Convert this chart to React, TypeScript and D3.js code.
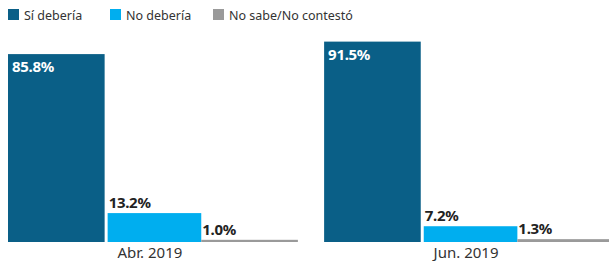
import React from "react";
import * as d3 from "d3";

const periods = ["Abr. 2019", "Jun. 2019"];
const seriesNames = ["Sí debería", "No debería", "No sabe/No contestó"];
const seriesColors = ["#0a5f87", "#00aeef", "#9a9a9a"];
const abrValues = [85.8, 13.2, 1.0];
const junValues = [91.5, 7.2, 1.3];
const valuesByPeriod = [abrValues, junValues];

const W = 609;
const H = 261;
const FONT = "'Noto Sans', 'Open Sans', sans-serif";

export default function App() {
  const x0 = d3.scaleBand<string>().domain(periods).range([8, 614]).paddingInner(0.083);
  const x1 = d3.scaleBand<string>().domain(seriesNames).range([0, x0.bandwidth()]).paddingInner(0.0);
  const y = d3.scaleLinear().domain([0, 100]).range([242, 23]);
  const fmt = (v: number) => `${v.toFixed(1)}%`;

  const legendX = [8, 110, 213];

  return (
    <svg width={W} height={H} style={{ position: "absolute", left: 0, top: 0, display: "block" }}>
      <rect x={0} y={0} width={W} height={H} fill="#ffffff" />
      {seriesNames.map((s, i) => (
        <g key={s} transform={`translate(${legendX[i]},0)`}>
          <rect x={0} y={9} width={11} height={11} fill={seriesColors[i]} />
          <text x={16} y={19.5} fontFamily={FONT} fontSize={12.5} fill="#333">{s}</text>
        </g>
      ))}
      {periods.map((p, gi) => {
        const gx = x0(p)!;
        const vals = valuesByPeriod[gi];
        return (
          <g key={p} transform={`translate(${gx},0)`}>
            {seriesNames.map((s, si) => {
              const bx = x1(s)!;
              const bw = x1.bandwidth();
              const v = vals[si];
              const top = y(v);
              const gapL = si === 1 ? 3 : 0;
              return (
                <g key={s}>
                  <rect x={bx + gapL} y={top} width={bw - gapL} height={y(0) - top} fill={seriesColors[si]} />
                  {si === 0 ? (
                    <text x={bx + 4} y={top + 18} fontFamily={FONT} fontWeight="bold" fontSize={15} letterSpacing={-0.3} fill="#ffffff">{fmt(v)}</text>
                  ) : (
                    <text x={bx + gapL + 1} y={top - 5} fontFamily={FONT} fontWeight="bold" fontSize={15} letterSpacing={-0.3} fill="#222">{fmt(v)}</text>
                  )}
                </g>
              );
            })}
            <text x={x0.bandwidth() / 2 - 3} y={258} textAnchor="middle" fontFamily={FONT} fontSize={15} fill="#333">{p}</text>
          </g>
        );
      })}
    </svg>
  );
}
